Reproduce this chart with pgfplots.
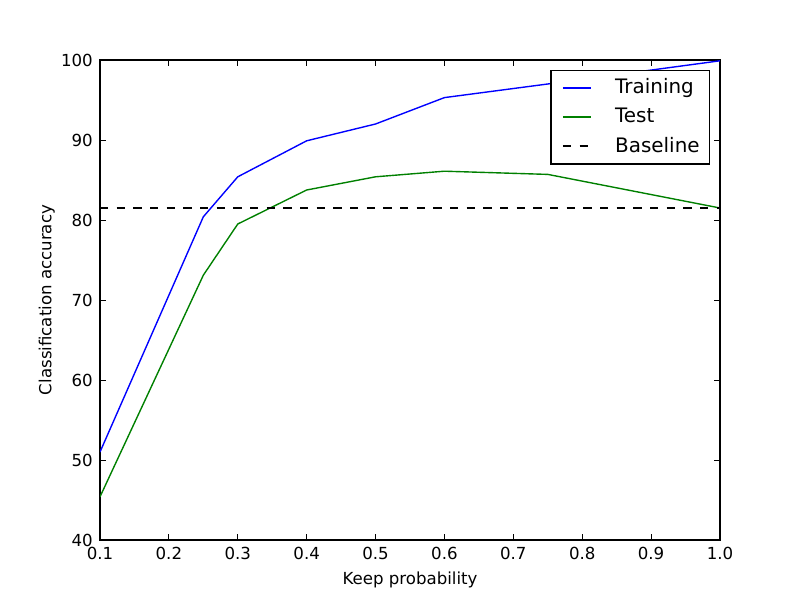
\documentclass[border=0pt]{standalone}
\usepackage{pgfplots}
\pgfplotsset{compat=1.18}
\usepackage{fontspec}
\setmainfont{DejaVu Sans}
\definecolor{mplgreen}{rgb}{0,0.5,0}
\begin{document}
\begin{tikzpicture}
\path[use as bounding box] (0,0) rectangle (576bp,432bp);
\begin{axis}[
  at={(72bp,43.2bp)}, anchor=south west,
  width=446.4bp, height=345.6bp, scale only axis,
  xmin=0.1, xmax=1.0, ymin=40, ymax=100,
  xtick={0.1,0.2,0.3,0.4,0.5,0.6,0.7,0.8,0.9,1.0},
  ytick={40,50,60,70,80,90,100},
  xticklabels={0.1,0.2,0.3,0.4,0.5,0.6,0.7,0.8,0.9,1.0},
  yticklabels={40,50,60,70,80,90,100},
  tick align=inside, major tick length=4bp,
  tick style={black, line width=0.7bp},
  axis line style={line width=1bp},
  ticklabel style={font=\fontsize{12}{14}\selectfont, inner sep=0pt},
  xticklabel shift=5bp, yticklabel shift=5bp,
  xlabel={Keep probability}, ylabel={Classification accuracy},
  label style={font=\fontsize{12}{14}\selectfont},
  xlabel style={yshift=-5.5bp},
  ylabel style={yshift=1bp},
  legend style={at={(0.984,0.979)}, anchor=north east, draw=black, line width=1bp,
    font=\fontsize{14.4}{17}\selectfont, inner xsep=5bp, inner ysep=3.5bp, row sep=3bp,
    nodes={inner sep=2bp, text height=11bp, text depth=3bp}},
  legend cell align=left,
  legend image code/.code={\path (-3bp,0bp); \draw[#1, line width=1.2bp] (0bp,0.1bp) -- (20.5bp,0.1bp);},
]
\addplot[blue, line width=1bp] coordinates {
  (0.1,51.0) (0.25,80.4) (0.3,85.4) (0.4,89.9) (0.5,92.0) (0.6,95.3) (0.75,97.0) (1.0,99.9)};
\addlegendentry{\hspace{14.5bp}Training}
\addplot[mplgreen, line width=1bp] coordinates {
  (0.1,45.4) (0.25,73.1) (0.3,79.5) (0.4,83.75) (0.5,85.4) (0.6,86.1) (0.75,85.7) (1.0,81.5)};
\addlegendentry{\hspace{14.5bp}Test}
\addplot[black, line width=1bp, dash pattern=on 6bp off 6bp] coordinates {(0.1,81.5) (1.0,81.5)};
\addlegendentry{\hspace{14.5bp}Baseline}
\end{axis}
\end{tikzpicture}
\end{document}
